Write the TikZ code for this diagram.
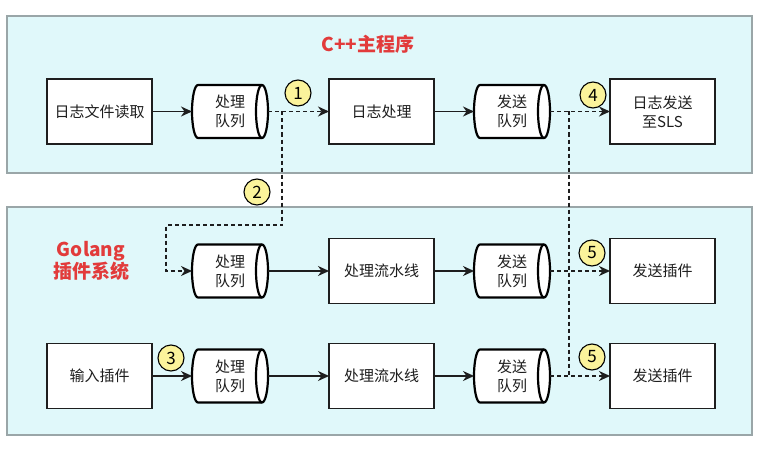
\documentclass[tikz,border=0pt]{standalone}
\usepackage{fontspec}
\setmainfont{Noto Sans CJK SC}
\usetikzlibrary{arrows.meta}
\definecolor{panelfill}{HTML}{E0F8FA}
\definecolor{panelline}{HTML}{9AA6A8}
\definecolor{titlered}{HTML}{E23B3B}
\definecolor{badgefill}{HTML}{FBF39B}
\definecolor{ink}{HTML}{1E1E1E}
\tikzset{
  panel/.style={draw=panelline, line width=1.3pt, fill=panelfill},
  box/.style={draw=ink, line width=1.5pt, fill=white, minimum width=105pt, minimum height=65pt,
    align=center, font=\fontsize{15}{19}\selectfont, text=ink, inner sep=0pt, outer sep=0pt},
  queue/.style={minimum width=76pt, minimum height=53pt, align=center,
    font=\fontsize{15}{19}\selectfont, text=ink, inner sep=0pt, outer sep=0pt},
  cylline/.style={draw=black, line width=2.2pt, fill=white},
  flow/.style={line width=1.3pt, draw=ink, -{Stealth[length=11pt,width=10pt,inset=3.5pt]}},
  dflow/.style={flow, dash pattern=on 4pt off 3pt},
  dline/.style={line width=1.3pt, draw=ink, dash pattern=on 4pt off 3pt},
  badgec/.style={circle, draw=black, line width=1.1pt, fill=badgefill, minimum size=26pt,
    inner sep=0pt, font=\fontsize{17}{17}\selectfont},
  paneltitle/.style={text=titlered, font=\fontsize{19}{22}\selectfont\bfseries, align=center}
}
\newcommand\cylq[4]{%
  \draw[cylline] (#2,#3) ++(-32,26.5) -- ++(64,0)
     arc[start angle=90,end angle=-90,x radius=6pt,y radius=26.5pt] -- ++(-64,0)
     arc[start angle=270,end angle=90,x radius=6pt,y radius=26.5pt] -- cycle;
  \draw[cylline,fill=none] (#2,#3) ++(32,26.5)
     arc[start angle=90,end angle=270,x radius=6pt,y radius=26.5pt];
  \node[queue] (#1) at (#2,#3) {#4};}
\begin{document}
\begin{tikzpicture}[x=1pt,y=1pt]
\useasboundingbox (0,0) rectangle (765,448);
\fill[white] (0,0) rectangle (765,448);
% panels
\draw[panel] (7,432) rectangle (752,275);
\draw[panel] (7,241) rectangle (752,13);
\node[paneltitle] (t1) at (368,404) {C++主程序};
\node[paneltitle] (t2) at (91,187) {Golang\\插件系统};
% row 1
\node[box] (b11) at (99.5,336.5) {日志文件读取};
\cylq{q12}{230}{336.5}{处理\\队列}
\node[box] (b13) at (381.5,336.5) {日志处理};
\cylq{q14}{512}{336.5}{发送\\队列}
\node[box] (b15) at (662.5,336.5) {日志发送\\至SLS};
% row 2
\cylq{q22}{230}{177}{处理\\队列}
\node[box] (b23) at (381.5,177) {处理流水线};
\cylq{q24}{512}{177}{发送\\队列}
\node[box] (b25) at (662.5,177) {发送插件};
% row 3
\node[box] (b31) at (99.5,72) {输入插件};
\cylq{q32}{230}{72}{处理\\队列}
\node[box] (b33) at (381.5,72) {处理流水线};
\cylq{q34}{512}{72}{发送\\队列}
\node[box] (b35) at (662.5,72) {发送插件};
% connectors
\draw[flow] (b11) -- (q12);
\draw[dflow] (q12) -- (b13);
\draw[flow] (b13) -- (q14);
\draw[dflow] (q14) -- (b15);
\draw[flow] (q22) -- (b23);
\draw[flow] (b23) -- (q24);
\draw[dflow] (q24) -- (b25);
\draw[flow] (b31) -- (q32);
\draw[flow] (q32) -- (b33);
\draw[flow] (b33) -- (q34);
\draw[dflow] (q34) -- (b35);
\coordinate (j1) at (282,336.5);
\coordinate (j2) at (282,223);
\coordinate (j3) at (166,223);
\draw[dflow] (j1) -- (j2) -- (j3) |- (q22);
\coordinate (j4) at (569,336.5);
\coordinate (j5) at (569,72);
\draw[dline] (j4) -- (j5);
% badges
\node[badgec] (c1) at (298,355) {1};
\node[badgec] (c2) at (257,256) {2};
\node[badgec] (c3) at (171,90) {3};
\node[badgec] (c4) at (593,353) {4};
\node[badgec] (c5a) at (592,195) {5};
\node[badgec] (c5b) at (592,91) {5};
\end{tikzpicture}
\end{document}
